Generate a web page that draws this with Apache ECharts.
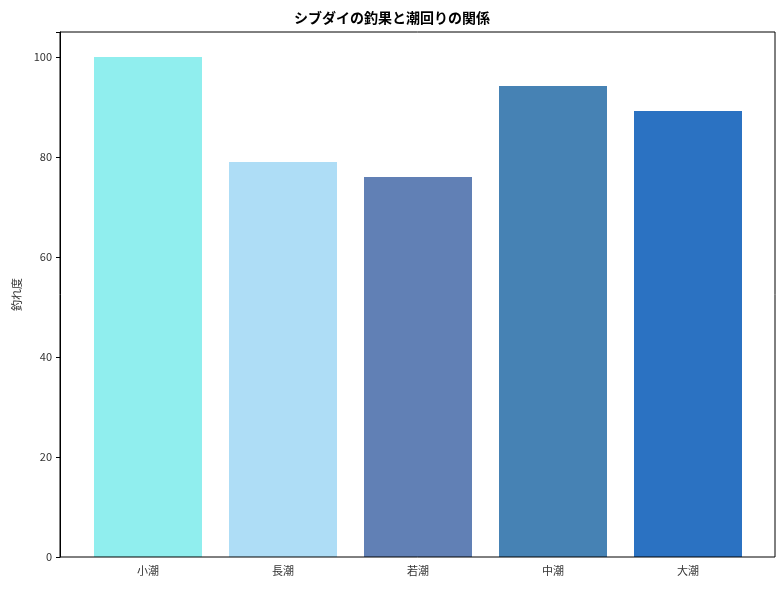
<!DOCTYPE html><html><head><meta charset="utf-8"><script src="https://cdn.jsdelivr.net/npm/echarts@6/dist/echarts.min.js"></script></head><body style="margin:0"><div id="c" style="width:784px;height:590px"></div><script>
const categories=['小潮','長潮','若潮','中潮','大潮'];
const values=[100,79,76,94.2,89.2];
const colors=['#90EEEE','#AEDDF6','#6180B5','#4682B4','#2B72C2'];
const yTicks=[0,20,40,60,80,100];
const F='"Noto Sans CJK JP"';
const ch=echarts.init(document.getElementById('c'));
ch.setOption({
 animation:false,
 title:{text:'シブダイの釣果と潮回りの関係',left:'center',top:6,textStyle:{fontFamily:F,fontSize:14,fontWeight:'bold',color:'#000'}},
 graphic:[{type:'rect',shape:{x:60,y:32,width:715,height:525},style:{fill:'none',stroke:'#000',lineWidth:1},z:10}],
 grid:[{left:60,right:9,top:32,bottom:33},{left:80.5,width:675,top:32,bottom:33}],
 xAxis:[{gridIndex:0,type:'value',show:false,min:0,max:1},
  {gridIndex:1,type:'category',data:categories,axisLine:{show:false},axisTick:{alignWithLabel:true,lineStyle:{color:'#000'},length:4},
   axisLabel:{fontFamily:F,fontSize:11,color:'#333',margin:8}}],
 yAxis:[{gridIndex:0,type:'value',min:0,max:105,interval:20,splitLine:{show:false},
   axisLine:{show:true,lineStyle:{color:'#000'}},axisTick:{show:true,length:4,lineStyle:{color:'#000'}},
   axisLabel:{fontFamily:F,fontSize:11,color:'#333',formatter:v=>yTicks.includes(v)?v:''},
   name:'釣れ度',nameLocation:'middle',nameGap:36,nameTextStyle:{fontFamily:F,fontSize:11,color:'#333'}},
  {gridIndex:1,type:'value',min:0,max:105,show:false}],
 series:[{type:'bar',xAxisIndex:1,yAxisIndex:1,barWidth:108,
   data:values.map((v,i)=>({value:v,itemStyle:{color:colors[i]}}))}]
});
</script></body></html>
